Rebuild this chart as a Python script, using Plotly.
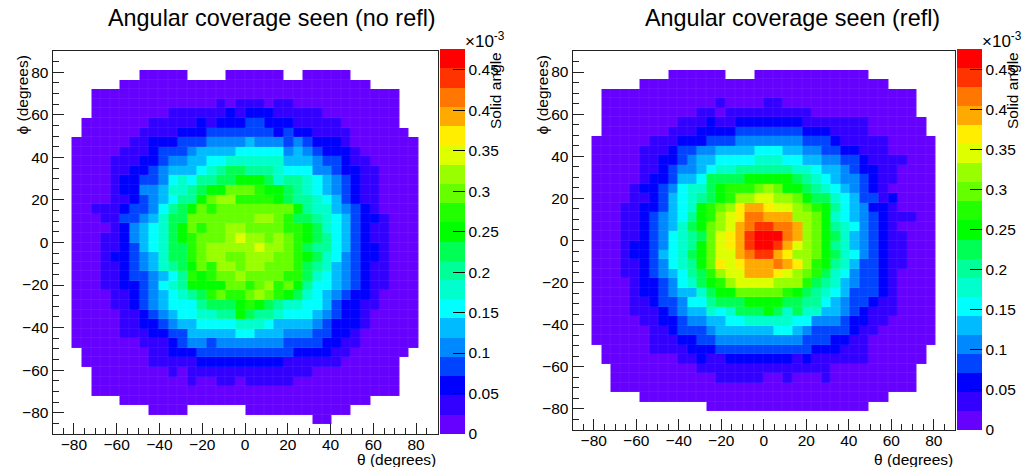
import plotly.graph_objects as go

# 40 x 40 bins, top row first (phi descending), theta ascending. Each character is the
# colour-band of the cell: 0-9 then a-j = band 10-19, "." = empty bin.
no_refl_rows = [
"..... ..... ..... ..... ..... ..... ..... .....",
"..... ..... ..... ..... ..... ..... ..... .....",
"..... ....0 0000. ...00 0000. .0000 0.... .....",
"..... ..000 00000 00000 00000 00000 000.. .....",
"....0 00000 00000 00000 00000 00000 00000 0....",
"....0 00000 00000 00101 11011 00000 00000 0....",
"....0 00000 00111 11121 22211 11100 00000 0....",
"...00 00000 11111 21222 33222 11111 00000 0....",
"...00 00001 11122 23333 33323 22111 10000 00...",
"..000 00011 22233 34444 54443 43222 10000 000..",
"..000 00111 23334 55556 66664 54322 21000 000..",
"..000 01112 23445 56677 77775 55433 21100 000..",
"..000 01122 34555 67899 88876 66443 22110 000..",
"..000 01223 34676 8899a aa978 87654 32110 000..",
"..000 01224 45778 9aacc cbaa9 87654 32110 000..",
"..000 01123 45688 acddb bbba9 88765 32110 000..",
"..001 11233 4689a cbccc ccccc a8775 43210 000..",
"..000 11334 5799c ccccc cddcb 99876 53221 000..",
"..000 01245 679ac bccdd ccccb ba976 53211 000..",
"..000 11245 679ab cccde ddcdc ba986 53211 000..",
"..000 11235 6799b cdddd deddc b9886 53221 000..",
"..000 12234 5799b cddcc dddcc ba976 43221 000..",
"..000 11234 5789a cbddc ddccc b9875 43211 000..",
"..000 11233 4568b abccd ccccb b9765 43211 000..",
"..000 11223 4678a aaacc bcdbc a8665 43211 000..",
"..000 01123 45678 9bcbb cdcba 97654 32210 000..",
"..000 01123 45666 8999a ba987 76653 22110 000..",
"..000 00112 34566 7788a 98876 66543 22100 000..",
"..000 00112 23455 66667 77655 55432 22100 000..",
"..000 00111 22335 55556 65554 44332 21000 000..",
"..000 00001 11234 43444 44443 33322 11000 000..",
"...00 00000 11222 33333 33333 22221 10000 00...",
"...00 00000 11111 22222 22221 11111 00000 0....",
"....0 00000 00101 11111 11111 11000 00000 0....",
"....0 00000 00001 00110 11111 00000 00000 0....",
"....0 00000 00000 00000 00000 00000 00000 0....",
"..... ..000 00000 00000 00000 00000 000.. .....",
"..... ..... 0000. ..... 00000 00000 0.... .....",
"..... ..... ..... ..... ..... ..00. ..... .....",
"..... ..... ..... ..... ..... ..... ..... .....",
]
refl_rows = [
"..... ..... ..... ..... ..... ..... ..... .....",
"..... ..... ..... ..... ..... ..... ..... .....",
"..... ..... 00000 0...0 00000 00000 0.... .....",
"..... ..000 00000 00000 00000 00000 000.. .....",
"...00 00000 00000 00000 00000 00000 00000 0....",
"...00 00000 00000 10000 11000 00000 00000 0....",
"...00 00000 00011 01111 11111 00000 00000 0....",
"...00 00000 01112 11222 22221 11111 10000 00...",
"...00 00000 11122 22333 33332 22111 10000 00...",
"..000 00011 12223 33444 44443 33211 11100 000..",
"..000 00111 23344 55556 66554 43322 11100 000..",
"..000 00112 23455 66667 77665 54433 21111 000..",
"..000 00112 34456 77888 88877 65543 22110 000..",
"..000 00122 35569 999aa aaa98 76544 32110 000..",
"..000 01223 46779 abbbc dcaa9 87654 32100 000..",
"..000 01123 56789 abdde eddca 99765 33120 000..",
"..000 11223 567ab cdfgg feedc ba865 42210 000..",
"..000 11234 568ab defhh gggdd ca765 43211 100..",
"..000 11234 579ac deghi ihhgd ca876 43210 000..",
"..000 11234 6789c efgij jjhgd ca975 43211 000..",
"..000 12234 678ac efgij jiged ca875 43211 000..",
"..000 12235 679ac eeghi igfdd ca976 43211 000..",
"..000 11234 678ac fefgg ghgfd ba875 33211 000..",
"..000 11234 5689b deegg gfedc b9764 33210 000..",
"..000 01223 4679a bdeee edddb 98754 33210 000..",
"..000 01223 45579 aaccc ccba9 87653 33210 000..",
"..000 01123 34668 999aa aa998 86543 32110 000..",
"..000 01112 34557 67999 a9797 75543 21110 000..",
"..000 00112 23445 56677 77766 44432 21100 000..",
"..000 00011 23334 55555 56654 33332 11000 000..",
"..000 00011 12233 44444 44443 33221 10000 000..",
"...00 00011 11222 33333 33333 22211 10000 00...",
"...00 00000 01121 12222 22212 11111 10000 00...",
"....0 00000 00011 11111 11111 11000 00000 0....",
"....0 00000 00000 11111 00100 01000 00000 0....",
"....0 00000 00000 00000 00000 00000 00000 0....",
"..... ..000 00000 00000 00000 00000 000.. .....",
"..... ..... ....0 00000 00000 00000 0.... .....",
"..... ..... ..... ..... ..... ..... ..... .....",
"..... ..... ..... ..... ..... ..... ..... .....",
]
band_colors = ["#6600ff", "#3300ff", "#0000ff", "#0044ff", "#0088ff", "#00bbff", "#00ffff",
               "#00ffcc", "#00ff99", "#00ff55", "#00ff00", "#22ff00", "#66ff00", "#99ff00",
               "#ddff00", "#ffee00", "#ffaa00", "#ff7700", "#ff3300", "#ff0000"]
Z_MAX = 0.4755  # in units of 1e-3
cbar_ticks = [0, 0.05, 0.1, 0.15, 0.2, 0.25, 0.3, 0.35, 0.4, 0.45]
cbar_text = ["0", "0.05", "0.1", "0.15", "0.2", "0.25", "0.3", "0.35", "0.4", "0.45"]
axis_ticks = [-80, -60, -40, -20, 0, 20, 40, 60, 80]
LEVELS = "0123456789abcdefghij"
W, H = 1022, 467
FONT = "Liberation Sans"
panels = [
    dict(rows=no_refl_rows, title="Angular coverage seen (no refl)", tx=272, l=52.5, r=437.5, t=51, b=434, cx=440),
    dict(rows=refl_rows, title="Angular coverage seen (refl)", tx=792, l=572.5, r=955, t=51, b=430, cx=957),
]


def decode(rows):
    band = Z_MAX / len(band_colors)
    out = []
    for row in rows:
        cells = row.replace(" ", "")
        out.append([None if c == "." else (LEVELS.index(c) + 0.5) * band for c in cells])
    return out


n = len(band_colors)
colorscale = []
for i, c in enumerate(band_colors):
    colorscale += [[i / n, c], [(i + 1) / n, c]]

fig = go.Figure()
annotations = []
for k, p in enumerate(panels):
    sfx = "" if k == 0 else "2"
    fig.add_trace(go.Heatmap(
        z=decode(p["rows"]), x0=-87.75, dx=4.5, y0=87.75, dy=-4.5,
        xaxis="x" + sfx, yaxis="y" + sfx, zmin=0, zmax=Z_MAX, colorscale=colorscale,
        hoverongaps=False, xgap=0.06, ygap=0.06,
        colorbar=dict(
            x=p["cx"] / W, xanchor="left", xpad=0, ypad=0, y=1 - (p["t"] - 2) / H, yanchor="top",
            lenmode="pixels", len=p["b"] - p["t"] + 2, thicknessmode="pixels", thickness=25,
            outlinewidth=0, tickvals=cbar_ticks, ticktext=cbar_text, ticks="inside", ticklen=12,
            tickcolor="#000", tickwidth=1, tickfont=dict(family=FONT, size=15.5, color="#000"),
        ),
    ))
    common = dict(range=[-90, 90], tickvals=axis_ticks, ticks="inside", ticklen=11, tickwidth=1,
                  tickcolor="#222", showgrid=False, zeroline=False, showline=True, mirror=True,
                  linecolor="#222", linewidth=1,
                  tickfont=dict(family=FONT, size=15.5, color="#000"),
                  minor=dict(dtick=5, tick0=0, ticks="inside", ticklen=6, tickwidth=1,
                             tickcolor="#222", showgrid=False))
    fig.update_layout(**{
        "xaxis" + sfx: dict(common, domain=[p["l"] / W, p["r"] / W], anchor="y" + sfx,
                            ticklabelstandoff=-4),
        "yaxis" + sfx: dict(common, domain=[1 - p["b"] / H, 1 - p["t"] / H], anchor="x" + sfx),
    })
    cx = p["cx"]
    annotations += [
        dict(text=p["title"], x=p["tx"] / W, y=1 - 18 / H, font_size=23.4),
        dict(text="θ (degrees)", x=p["r"] / W, y=1 - 459 / H, xanchor="right", font_size=15.5),
        dict(text="ϕ (degrees)", x=(p["l"] - 30) / W, y=1 - 95 / H, textangle=-90, font_size=15.5),
        dict(text="Solid angle", x=(cx + 55) / W, y=1 - 91 / H, textangle=-90, font_size=15.5),
        dict(text="×10<sup>-3</sup>", x=(cx + 23) / W, y=1 - 40 / H, xanchor="left", font_size=17),
    ]

for a in annotations:
    a.update(xref="paper", yref="paper", showarrow=False, xanchor=a.get("xanchor", "center"),
             yanchor="middle", font=dict(family=FONT, size=a.pop("font_size"), color="#000"))
fig.update_layout(width=W, height=H, autosize=False,
                  margin=dict(l=0, r=0, t=0, b=0, autoexpand=False),
                  paper_bgcolor="white", plot_bgcolor="white", annotations=annotations,
                  showlegend=False)
fig.write_html("out.html", config={"displayModeBar": False},
               post_script="document.body.style.margin='0';document.body.style.overflow='hidden';")
